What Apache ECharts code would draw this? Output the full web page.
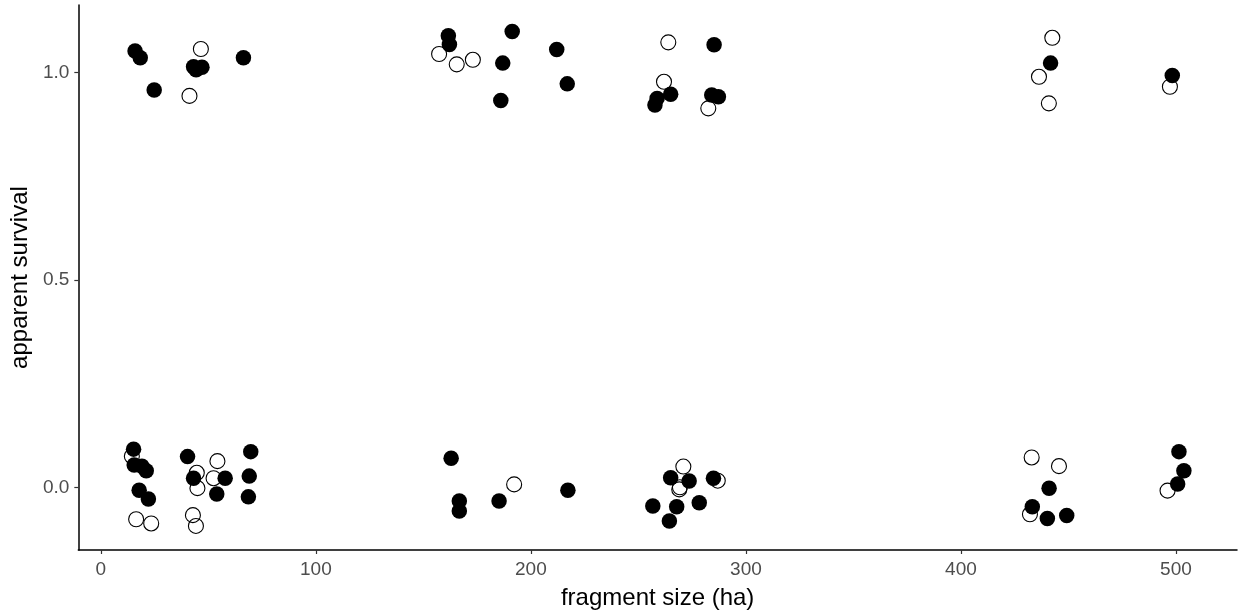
<!DOCTYPE html>
<html>
<head>
<meta charset="utf-8">
<script src="https://cdn.jsdelivr.net/npm/echarts@6/dist/echarts.min.js"></script>
<style>html,body{margin:0;padding:0;background:#fff}#c{width:1238px;height:615px}</style>
</head>
<body>
<div id="c"></div>
<script>
// fragment size (ha) and apparent survival, filled points
const filledX = [15.9,18.3,24.8,43.1,47.0,44.3,66.3,
  161.6,162.1,191.3,186.9,186.0,212.0,216.9,265.0,257.7,258.7,285.2,284.1,287.2,
  441.7,498.3,
  15.2,15.5,19.1,21.1,17.8,22.1,40.3,43.1,57.8,53.9,69.7,69.0,68.6,
  162.9,166.7,166.7,185.2,217.2,265.0,273.6,284.9,256.7,267.8,278.3,264.4,
  441.0,433.2,440.2,449.2,501.4,503.7,500.8];
const filledY = [1.052,1.036,0.958,1.014,1.013,1.007,1.036,
  1.089,1.068,1.099,1.023,0.933,1.056,0.973,0.948,0.922,0.938,1.067,0.946,0.942,
  1.023,0.993,
  0.093,0.055,0.052,0.041,-0.006,-0.027,0.075,0.023,0.023,-0.015,0.087,0.028,-0.022,
  0.071,-0.032,-0.056,-0.032,-0.006,0.024,0.016,0.023,-0.044,-0.046,-0.036,-0.080,
  -0.001,-0.046,-0.074,-0.067,0.087,0.041,0.009];
// open points
const openX = [41.2,46.5,
  157.3,165.5,173.0,263.9,261.9,282.5,
  442.5,436.3,440.9,497.2,
  14.4,16.4,23.4,54.2,44.6,44.9,52.4,42.8,44.2,
  192.2,270.9,269.3,269.0,286.9,
  432.9,445.6,432.1,496.1];
const openY = [0.944,1.057,
  1.045,1.020,1.031,1.073,0.978,0.914,
  1.084,0.990,0.926,0.966,
  0.076,-0.076,-0.086,0.064,0.036,-0.001,0.023,-0.066,-0.092,
  0.008,0.051,0.001,-0.004,0.017,
  0.073,0.052,-0.064,-0.007];
const xTicks = [0,100,200,300,400,500];
const yTicks = [0,0.5,1];

const zip = (a,b) => a.map((v,i)=>[v,b[i]]);
const chart = echarts.init(document.getElementById('c'), null, {renderer:'canvas'});
const font = 'Liberation Sans, Arial, sans-serif';
chart.setOption({
  animation:false,
  backgroundColor:'#fff',
  grid:{left:78, right:1, top:5, bottom:65, containLabel:false},
  xAxis:{
    type:'value', min:-10.5, max:528.4,
    name:'fragment size (ha)', nameLocation:'middle', nameGap:36,
    nameTextStyle:{fontFamily:font, fontSize:24, color:'#000'},
    axisLine:{show:true, onZero:false, lineStyle:{color:'#000', width:1.5}},
    axisTick:{show:true, length:4, customValues:xTicks, lineStyle:{color:'#333', width:1.2}},
    axisLabel:{customValues:xTicks, margin:10, fontFamily:font, fontSize:19, color:'#4d4d4d'},
    splitLine:{show:false}
  },
  yAxis:{
    type:'value', min:-0.150, max:1.163,
    name:'apparent survival', nameLocation:'middle', nameGap:41,
    nameTextStyle:{fontFamily:font, fontSize:24, color:'#000'},
    axisLine:{show:true, onZero:false, lineStyle:{color:'#000', width:1.5}},
    axisTick:{show:true, length:4, customValues:yTicks, lineStyle:{color:'#333', width:1.2}},
    axisLabel:{customValues:yTicks, margin:9, fontFamily:font, fontSize:19, color:'#4d4d4d',
      formatter:v=>v.toFixed(1)},
    splitLine:{show:false}
  },
  series:[
    {type:'scatter', data:zip(openX,openY), symbol:'circle', symbolSize:15,
     itemStyle:{color:'rgba(0,0,0,0)', borderColor:'#000', borderWidth:1.1, opacity:1}, z:2},
    {type:'scatter', data:zip(filledX,filledY), symbol:'circle', symbolSize:15.5,
     itemStyle:{color:'#000', borderColor:'#000', borderWidth:0, opacity:1}, z:3}
  ]
});
</script>
</body>
</html>
